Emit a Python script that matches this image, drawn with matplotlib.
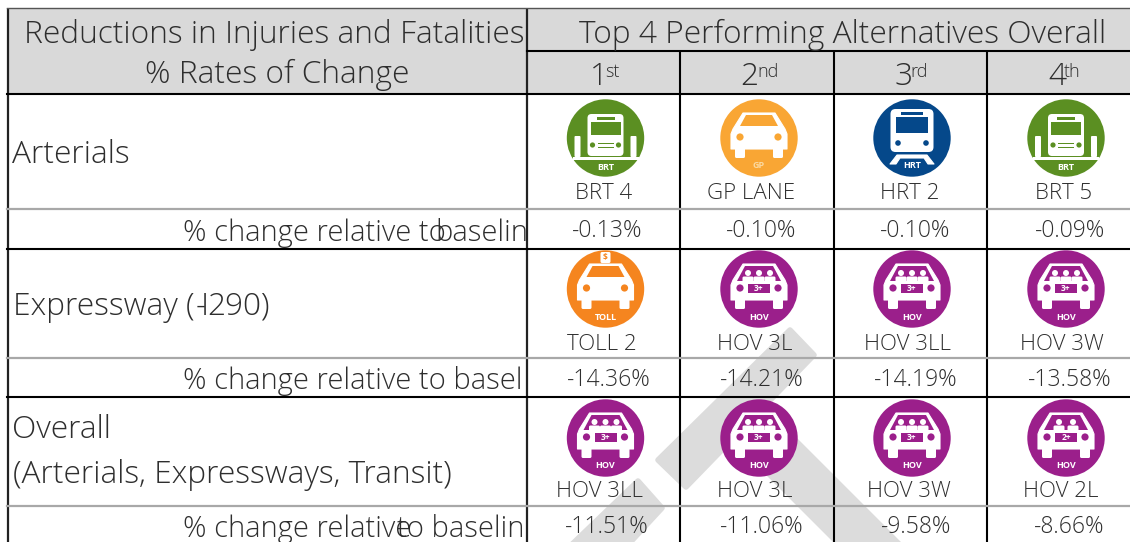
import matplotlib
matplotlib.use('Agg')
import matplotlib.pyplot as plt
from matplotlib.patches import Circle, Rectangle, Polygon, FancyBboxPatch

FONT = 'Open Sans'
WEIGHT = 'light'
TXT = '#2e2e2e'
BIG = 22.8
MID = 21
NAME = 16
PCT = 16.5

plt.rcParams['font.family'] = [FONT, 'DejaVu Sans']

W, H = 1130, 542

# table content
ranks = ['1', '2', '3', '4']
rank_suffix = ['st', 'nd', 'rd', 'th']
arterials = ['BRT 4', 'GP LANE', 'HRT 2', 'BRT 5']
arterials_pct = ['-0.13%', '-0.10%', '-0.10%', '-0.09%']
expressway = ['TOLL 2', 'HOV 3L', 'HOV 3LL', 'HOV 3W']
expressway_pct = ['-14.36%', '-14.21%', '-14.19%', '-13.58%']
overall = ['HOV 3LL', 'HOV 3L', 'HOV 3W', 'HOV 2L']
overall_pct = ['-11.51%', '-11.06%', '-9.58%', '-8.66%']

# layout, in pixels of the picture
col_lines = [527, 680, 834, 987]
icon_x = [605.5, 759, 912, 1066]
rows = [
    dict(names=arterials, pct=arterials_pct, icon_y=138, name_y=199, pct_y=237,
         name_x=[604, 751, 910, 1064], pct_x=[607, 761, 915, 1070]),
    dict(names=expressway, pct=expressway_pct, icon_y=289, name_y=350, pct_y=386,
         name_x=[602, 755, 908, 1062], pct_x=[609, 762, 916, 1070]),
    dict(names=overall, pct=overall_pct, icon_y=438, name_y=497, pct_y=533,
         name_x=[600, 755, 909, 1061], pct_x=[607, 762, 916, 1069]),
]

fig = plt.figure(figsize=(W / 100, H / 100), dpi=100)
ax = fig.add_axes([0, 0, 1, 1])
ax.set_xlim(0, W)
ax.set_ylim(H, 0)
ax.axis('off')


def txt(x, y, s, size, ha='left', clip=None, color=TXT):
    t = ax.text(x, y, s, fontsize=size, ha=ha, va='baseline', color=color,
                weight=WEIGHT, zorder=6)
    if clip is not None:
        t.set_clip_path(Rectangle((0, 0), clip, H, transform=ax.transData))
        t.set_clip_on(True)
    return t


def white(pts):
    ax.add_patch(Polygon(pts, closed=True, fc='white', ec='white', lw=0.8,
                         joinstyle='round', zorder=5))


def box(x, y, w, h, color='white', r=1.5):
    ax.add_patch(FancyBboxPatch((x + r, y + r), w - 2 * r, h - 2 * r,
                                boxstyle='round,pad=%s,rounding_size=%s' % (r, r),
                                fc=color, ec='none', zorder=5))


def dot(x, y, r, color):
    ax.add_patch(Circle((x, y), r, fc=color, ec='none', zorder=5))


def badge(cx, cy, s, color='white', dy=28, size=6.5):
    ax.text(cx, cy + dy, s, fontsize=size, color=color, ha='center', va='center',
            fontweight='bold', zorder=6)


def car_body(cx, cy, color):
    white([(cx - 16, cy - 25), (cx + 16, cy - 25), (cx + 26, cy - 9),
           (cx + 28, cy - 4), (cx + 28, cy + 11), (cx - 28, cy + 11),
           (cx - 28, cy - 4), (cx - 26, cy - 9)])
    box(cx - 24, cy + 8, 10, 12)
    box(cx + 14, cy + 8, 10, 12)
    dot(cx - 19, cy - 1, 3.6, color)
    dot(cx + 19, cy - 1, 3.6, color)


def plain_car(cx, cy, color, label, label_color='white'):
    ax.add_patch(Circle((cx, cy), 38.7, fc=color, ec='none', zorder=4))
    car_body(cx, cy, color)
    ax.add_patch(Polygon([(cx - 13, cy - 23), (cx + 13, cy - 23), (cx + 19, cy - 12),
                          (cx - 19, cy - 12)], fc=color, ec='none', zorder=5))
    badge(cx, cy, label, label_color)


def hov_car(cx, cy, seats, label='HOV'):
    color = '#9b1f8b'
    ax.add_patch(Circle((cx, cy), 38.7, fc=color, ec='none', zorder=4))
    car_body(cx, cy, color)
    ax.add_patch(Polygon([(cx - 14, cy - 23), (cx + 14, cy - 23), (cx + 22, cy - 8),
                          (cx - 22, cy - 8)], fc=color, ec='none', zorder=5))
    heads = [-11, 0, 11] if seats == '3+' else [-7, 7]
    for h in heads:
        dot(cx + h, cy - 16, 3, 'white')
        box(cx + h - 5.5, cy - 12.5, 11, 6)
    ax.add_patch(Rectangle((cx - 11, cy - 5), 22, 9, fc=color, ec='none', zorder=5))
    ax.text(cx, cy - 0.5, seats, fontsize=6, color='white', ha='center', va='center',
            fontweight='bold', zorder=6)
    badge(cx, cy, label)


def toll_car(cx, cy, label='TOLL'):
    color = '#f5851f'
    plain_car(cx, cy, color, label)
    box(cx - 5, cy - 37, 10, 11)
    ax.text(cx, cy - 31.5, '$', fontsize=6, color=color, ha='center', va='center',
            fontweight='bold', zorder=6)


def bus(cx, cy, label='BRT'):
    color = '#5b8f22'
    ax.add_patch(Circle((cx, cy), 38.7, fc=color, ec='none', zorder=4))
    box(cx - 18, cy - 24, 36, 42, r=4)
    ax.add_patch(Rectangle((cx - 15, cy - 16), 30, 13, fc=color, ec='none', zorder=5))
    ax.add_patch(Rectangle((cx - 9, cy - 21), 18, 2.5, fc=color, ec='none', zorder=5))
    dot(cx - 13, cy + 7, 2.6, color)
    dot(cx + 13, cy + 7, 2.6, color)
    ax.add_patch(Rectangle((cx - 8, cy + 4.5), 16, 1.2, fc=color, ec='none', zorder=5))
    ax.add_patch(Rectangle((cx - 8, cy + 8.5), 16, 1.2, fc=color, ec='none', zorder=5))
    box(cx - 31, cy - 2, 6, 21, r=1)
    box(cx + 25, cy - 2, 6, 21, r=1)
    ax.add_patch(Rectangle((cx - 33, cy + 19), 66, 3, fc='white', ec='none', zorder=5))
    badge(cx, cy, label, dy=29.5)


def train(cx, cy, label='HRT'):
    color = '#05488a'
    ax.add_patch(Circle((cx, cy), 38.7, fc=color, ec='none', zorder=4))
    box(cx - 21.5, cy - 29, 43, 43, r=5)
    ax.add_patch(Rectangle((cx - 16, cy - 21), 32, 16, fc=color, ec='none', zorder=5))
    ax.add_patch(Rectangle((cx - 11, cy - 26), 22, 2.5, fc=color, ec='none', zorder=5))
    dot(cx - 14, cy + 5, 2.8, color)
    dot(cx + 14, cy + 5, 2.8, color)
    white([(cx - 22, cy + 26), (cx - 15, cy + 17), (cx + 15, cy + 17), (cx + 22, cy + 26),
           (cx + 16, cy + 26), (cx + 12, cy + 20), (cx - 12, cy + 20), (cx - 16, cy + 26)])
    badge(cx, cy, label, dy=27.5)


def draw_icon(cx, cy, name):
    if name.startswith('BRT'):
        bus(cx, cy)
    elif name.startswith('GP'):
        plain_car(cx, cy, '#f9a634', 'GP', '#fbd9a0')
    elif name.startswith('HRT'):
        train(cx, cy)
    elif name.startswith('TOLL'):
        toll_car(cx, cy)
    elif '2' in name:
        hov_car(cx, cy, '2+')
    else:
        hov_car(cx, cy, '3+')


# header fill
ax.add_patch(Rectangle((8, 8), W - 8, 86, fc='#d9d9d9', ec='none', zorder=1))

# watermark behind the table
WM = '#dcdcdc'
for pts in ([(790, 330), (814, 355), (686, 487), (658, 460)],
            ([764, 409], [880, 525], [930, 575], [872, 577], [735, 440]),
            ([638, 481], [662, 508], [600, 575], [540, 575])):
    ax.add_patch(Polygon(pts, closed=True, fc=WM, ec=WM, lw=4, joinstyle='round', zorder=2))

# icons and names
for row in rows:
    for i, name in enumerate(row['names']):
        draw_icon(icon_x[i], row['icon_y'], name)
        txt(row['name_x'][i], row['name_y'], name, NAME, ha='center')
        txt(row['pct_x'][i], row['pct_y'], row['pct'][i], PCT, ha='center')

# grid lines
for x in col_lines[1:]:
    ax.plot([x, x], [51, H], color='black', lw=1.5, zorder=3, solid_capstyle='butt')
ax.plot([527, 527], [8, H], color='#222222', lw=1.6, zorder=3, solid_capstyle='butt')
ax.plot([7.5, 7.5], [8, H], color='#222222', lw=1.6, zorder=3, solid_capstyle='butt')
ax.plot([7, W], [8, 8], color='#555555', lw=1, zorder=3)
ax.plot([527, W], [51, 51], color='black', lw=1.5, zorder=3)
for y in (94, 249, 397):
    ax.plot([7, W], [y, y], color='black', lw=1.5, zorder=3)
for y in (209, 358, 506):
    ax.plot([7, W], [y, y], color='#a8a8a8', lw=1.6, zorder=3.5)

# header text
txt(24, 43, 'Reductions in Injuries and Fatalities', BIG, clip=526)
txt(277, 83, '% Rates of Change', BIG, ha='center')
txt(843, 43, 'Top 4 Performing Alternatives Overall', BIG, ha='center')
rank_x = [590, 740, 895, 1048]
suffix_x = [605, 757, 910, 1064]
for i in range(4):
    txt(rank_x[i], 85, ranks[i], BIG)
    txt(suffix_x[i], 77, rank_suffix[i], 13)

# row labels
txt(12, 163, 'Arterials', BIG)
txt(13, 315, 'Expressway (', BIG)
txt(201, 315, 'I', BIG)
txt(196, 315, '-', BIG)
txt(207, 315, '290)', BIG)
txt(12, 438, 'Overall', BIG)
txt(13, 483, '(Arterials, Expressways, Transit)', BIG)

# the "% change" captions overlap or get cut in the source table
txt(183, 241, '% change relative to', MID)
txt(435, 241, 'baseline', MID, clip=526)
txt(183, 389, '% change relative to basel', MID)
txt(183, 537, '% change relative', MID)
txt(397, 537, 'to baseline', MID, clip=526)

fig.savefig('out.png', dpi=100, facecolor='white')
